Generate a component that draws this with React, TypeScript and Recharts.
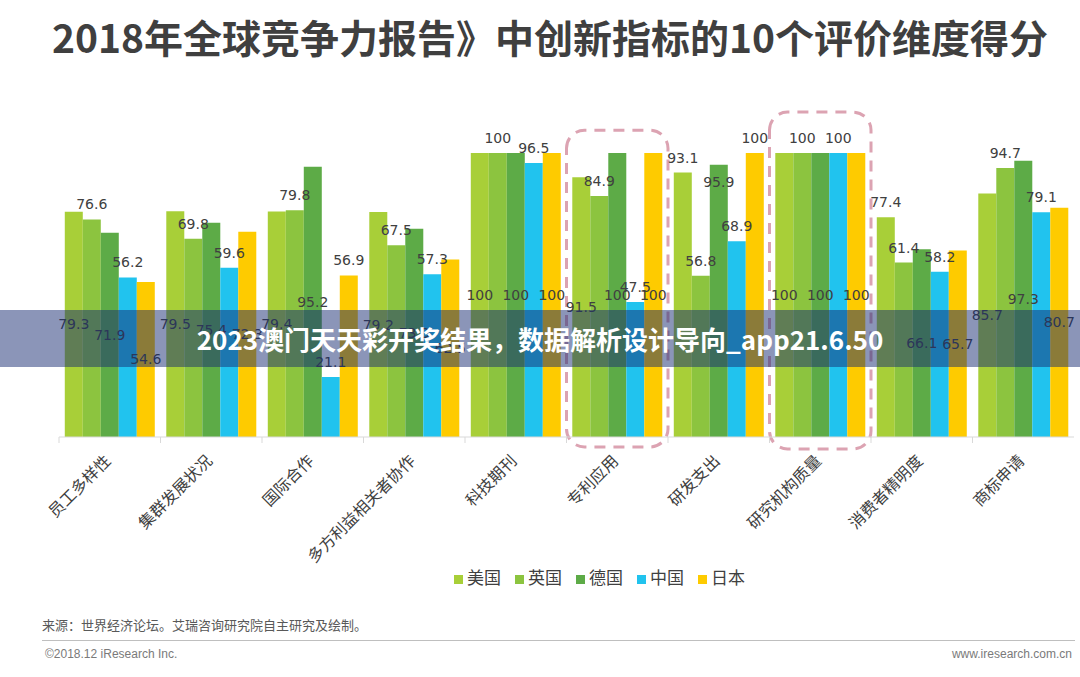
import React from "react";
import { BarChart, Bar, XAxis, YAxis, Legend, LabelList, ReferenceArea } from "recharts";

const categories = ["员工多样性", "集群发展状况", "国际合作", "多方利益相关者协作", "科技期刊", "专利应用", "研发支出", "研究机构质量", "消费者精明度", "商标申请"];
const usa = [79.3, 79.5, 79.4, 79.2, 100, 91.5, 93.1, 100, 77.4, 85.7];
const uk = [76.6, 69.8, 79.8, 67.5, 100, 84.9, 56.8, 100, 61.4, 94.7];
const germany = [71.9, 75.4, 95.2, 73.3, 100, 100, 95.9, 100, 66.1, 97.3];
const china = [56.2, 59.6, 21.1, 57.3, 96.5, 47.5, 68.9, 100, 58.2, 79.1];
const japan = [54.6, 72.3, 56.9, 62.5, 100, 100, 100, 100, 65.7, 80.7];
const seriesNames = ["美国", "英国", "德国", "中国", "日本"];
const highlighted = ["专利应用", "研究机构质量"];
const highlightTop = [108, 114.4];
const highlightBottom = [-3.5, -4.2];

const data = categories.map((c, i) => ({
  name: c,
  美国: usa[i],
  英国: uk[i],
  德国: germany[i],
  中国: china[i],
  日本: japan[i],
}));

const colors = ["#a8cf38", "#8cc43f", "#5dab47", "#21c3ee", "#fecb00"];
const labelPos = ["center", "top", "center", "top", "center"];
const topCells = ["研发支出|美国", "研发支出|日本", "消费者精明度|美国", "国际合作|日本"];
const insideTopCells = ["研发支出|德国"];

const CJK = '"Noto Sans CJK SC", "Noto Sans", sans-serif';
const CHART_W = 1080;
const M_LEFT = 59;
const M_RIGHT = 6;
const HALF_BAND = (CHART_W - M_LEFT - M_RIGHT) / categories.length / 2;

const makeLabel = (series: string, si: number) => (props: any) => {
  const x = Number(props.x);
  const y = Number(props.y);
  const width = Number(props.width);
  const height = Number(props.height);
  const { value, index } = props;
  const key = categories[index] + "|" + series;
  let mode = labelPos[si];
  if (topCells.includes(key)) mode = "top";
  if (insideTopCells.includes(key)) mode = "insideTop";
  const ty = mode === "top" ? y - 10 : mode === "insideTop" ? y + 22 : y + height / 2 + 5;
  return (
    <text
      x={x + width / 2}
      y={ty}
      textAnchor="middle"
      fill="#404040"
      fontSize={14}
      fontFamily='"DejaVu Sans", sans-serif'
    >
      {value}
    </text>
  );
};

const CategoryTick = (props: any) => {
  const { x, y, payload } = props;
  return (
    <g>
      <line x1={x - HALF_BAND} x2={x - HALF_BAND} y1={y - 8} y2={y - 2} stroke="#d9d9d9" />
      <text
        x={x + 2}
        y={y + 17}
        textAnchor="end"
        transform={`rotate(-45 ${x + 2} ${y + 17})`}
        fill="#404040"
        fontSize={16}
        fontFamily={CJK}
      >
        {payload.value}
      </text>
    </g>
  );
};

export default function App() {
  return (
    <div style={{ position: "absolute", left: 0, top: 0, width: 1080, height: 677, background: "#fff", overflow: "hidden" }}>
      <div
        style={{
          position: "absolute",
          left: 10,
          width: 1080,
          textAlign: "center",
          top: 8,
          fontFamily: CJK,
          fontWeight: 700,
          fontSize: 39,
          color: "#3f3f3f",
          whiteSpace: "nowrap",
        }}
      >
        2018年全球竞争力报告》中创新指标的10个评价维度得分
      </div>
      <div style={{ position: "absolute", left: 0, top: 0 }}>
        <BarChart
          width={CHART_W}
          height={677}
          data={data}
          margin={{ top: 153, right: M_RIGHT, bottom: 88, left: M_LEFT }}
          barCategoryGap="5.7%"
          barGap={0}
        >
          <YAxis hide domain={[0, 100]} />
          <XAxis
            dataKey="name"
            height={127}
            interval={0}
            tickLine={false}
            axisLine={{ stroke: "#d9d9d9" }}
            tick={<CategoryTick />}
          />
          {highlighted.map((h, i) => (
            <ReferenceArea
              key={h}
              x1={h}
              x2={h}
              y1={highlightBottom[i]}
              y2={highlightTop[i]}
              ifOverflow="visible"
              fill="none"
              fillOpacity={0}
              stroke="#dca3b2"
              strokeWidth={3}
              strokeDasharray="11 8"
              radius={18}
            />
          ))}
          {seriesNames.map((s, i) => (
            <Bar key={s} dataKey={s} fill={colors[i]} isAnimationActive={false}>
              <LabelList dataKey={s} content={makeLabel(s, i)} />
            </Bar>
          ))}
          <Legend
            verticalAlign="bottom"
            align="center"
            iconType="square"
            iconSize={9}
            itemSorter={(item: any) => seriesNames.indexOf(item.value)}
            wrapperStyle={{ fontFamily: CJK, fontSize: 17, paddingLeft: 40 }}
            formatter={(v: string) => <span style={{ color: "#404040", paddingRight: 4 }}>{v}</span>}
          />
        </BarChart>
      </div>
      <div style={{ position: "absolute", left: 42, top: 615, fontFamily: CJK, fontSize: 13, color: "#595959" }}>
        来源：世界经济论坛。艾瑞咨询研究院自主研究及绘制。
      </div>
      <div style={{ position: "absolute", left: 42, top: 640, width: 1033, height: 1, background: "#bfbfbf" }} />
      <div style={{ position: "absolute", left: 45, top: 647, fontFamily: '"Liberation Sans", sans-serif', fontSize: 12, color: "#7a7a7a" }}>
        ©2018.12 iResearch Inc.
      </div>
      <div style={{ position: "absolute", right: 8, top: 647, fontFamily: '"Liberation Sans", sans-serif', fontSize: 12, color: "#7a7a7a" }}>
        www.iresearch.com.cn
      </div>
      <div
        style={{
          position: "absolute",
          left: 0,
          top: 310,
          width: 1080,
          height: 57,
          background: "rgba(23,43,113,0.5)",
          color: "#fff",
          fontFamily: CJK,
          fontWeight: 700,
          fontSize: 26,
          lineHeight: "57px",
          textAlign: "center",
          whiteSpace: "nowrap",
        }}
      >
        2023澳门天天彩开奖结果，数据解析设计导向_app21.6.50
      </div>
    </div>
  );
}
